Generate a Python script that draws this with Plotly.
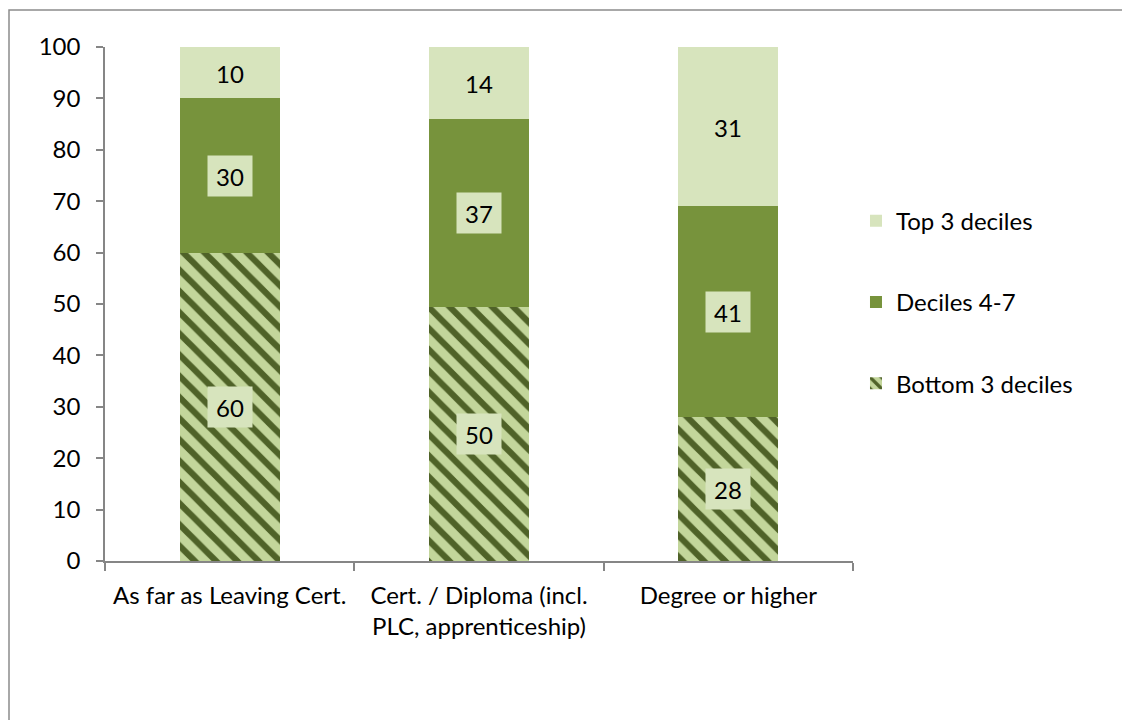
import plotly.graph_objects as go

categories = ["As far as Leaving Cert.", "Cert. / Diploma (incl.<br>PLC, apprenticeship)", "Degree or higher"]
cat_keys = ["c1", "c2", "c3"]
bottom3 = [60, 49.5, 28]
deciles47 = [30, 36.5, 41]
top3 = [10, 14, 31]

FONT = "Lato"
FS = 24

fig = go.Figure()
fig.add_trace(go.Bar(
    x=cat_keys, y=bottom3, name="Bottom 3 deciles", legendgroup="b", legendrank=3,
    marker=dict(color="#C3D69B", line=dict(width=0),
                pattern=dict(shape="\\", bgcolor="#C3D69B", fgcolor="#4F6228",
                             size=15, solidity=0.42, fillmode="replace")),
))
fig.add_trace(go.Bar(
    x=cat_keys, y=deciles47, name="Deciles 4-7", legendgroup="m", legendrank=2,
    marker=dict(color="#77933C", line=dict(width=0)),
))
fig.add_trace(go.Bar(
    x=cat_keys, y=top3, name="Top 3 deciles", legendgroup="t", legendrank=1,
    marker=dict(color="#D7E4BD", line=dict(width=0)),
))

annotations = []
for i, k in enumerate(cat_keys):
    base = 0
    for vals in (bottom3, deciles47, top3):
        v = vals[i]
        annotations.append(dict(
            x=k, y=base + v / 2, xref="x", yref="y", text=str(int(v + 0.5)), showarrow=False,
            font=dict(family=FONT, size=FS, color="black"),
            bgcolor="#D7E4BD", width=40, height=36, borderpad=2, align="center",
        ))
        base += v

fig.update_layout(
    barmode="stack",
    bargap=0.6,
    width=1122, height=720,
    margin=dict(l=105, r=269, t=47, b=159, autoexpand=False),
    paper_bgcolor="white", plot_bgcolor="white",
    font=dict(family=FONT, size=FS, color="black"),
    showlegend=True,
    legend=dict(
        x=1.004, xanchor="left", y=0.705, yanchor="top",
        traceorder="grouped", tracegroupgap=47,
        font=dict(family=FONT, size=FS, color="black"),
        bgcolor="rgba(0,0,0,0)", itemwidth=30,
    ),
    annotations=annotations,
    shapes=[dict(type="rect", xref="paper", yref="paper",
                 x0=(9 - 105) / 748, x1=(1140 - 105) / 748,
                 y0=(561 - 740) / 514, y1=(561 - 10) / 514,
                 line=dict(color="#8C8C8C", width=1.5), fillcolor="rgba(0,0,0,0)",
                 layer="below")],
)
fig.update_xaxes(
    type="category", tickvals=cat_keys, ticktext=categories,
    showline=True, linecolor="#868686", linewidth=1.5,
    ticks="outside", tickson="boundaries", ticklen=8, tickcolor="#868686", tickwidth=1.5,
    showgrid=False, zeroline=False, ticklabelstandoff=12,
)
fig.update_yaxes(
    range=[0, 100], dtick=10, tick0=0,
    showline=True, linecolor="#868686", linewidth=1.5,
    ticks="outside", ticklen=7, tickcolor="#868686", tickwidth=1.5,
    showgrid=False, zeroline=False, ticklabelstandoff=11,
)

fig.write_html("out.html", config={"displayModeBar": False},
               post_script="document.body.style.margin='0';document.body.style.overflow='hidden';")
